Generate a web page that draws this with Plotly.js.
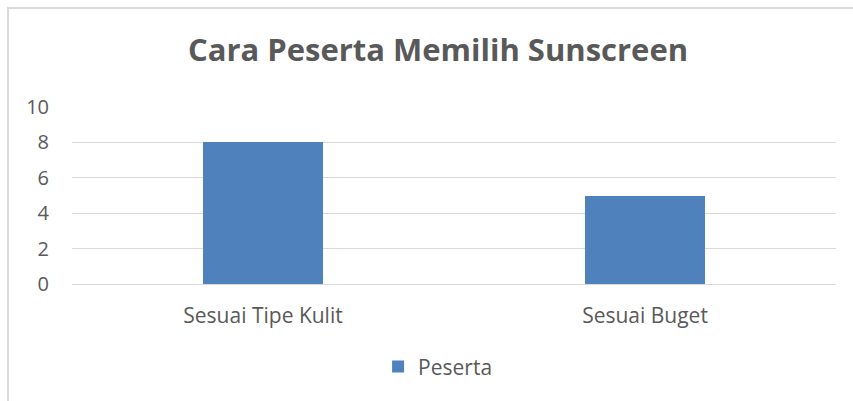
<!DOCTYPE html>
<html>
<head>
<meta charset="utf-8">
<script src="https://cdn.plot.ly/plotly-3.0.1.min.js"></script>
<style>
html,body{margin:0;padding:0;background:#fff;overflow:hidden;}
#wrap{position:relative;width:853px;height:401px;}
#chart{width:853px;height:401px;}
#frame{position:absolute;left:7px;top:7px;width:870px;height:420px;border:2px solid #d9d9d9;pointer-events:none;box-sizing:border-box;}
</style>
</head>
<body>
<div id="wrap"><div id="chart"></div><div id="frame"></div></div>
<script>
var categories = ["Sesuai Tipe Kulit", "Sesuai Buget"];
var peserta = [8, 5];
var seriesName = "Peserta";
var titleText = "Cara Peserta Memilih Sunscreen";
var yTicks = [0, 2, 4, 6, 8, 10];

var font = "'Open Sans', sans-serif";
var data = [{
  type: "bar",
  x: categories,
  y: peserta,
  name: seriesName,
  marker: {color: "#4f81bd"},
  width: 0.315,
  showlegend: true
}];
var layout = {
  width: 853, height: 401,
  margin: {l: 72, r: 17, t: 107, b: 117},
  paper_bgcolor: "#fff", plot_bgcolor: "#fff",
  font: {family: font, color: "#595959", size: 20},
  title: {text: "<b>" + titleText + "</b>", x: 0.5135, xanchor: "center", y: 0.874, yanchor: "middle",
          font: {family: font, size: 31, color: "#595959"}},
  xaxis: {type: "category", showgrid: false, zeroline: false, showline: true, linecolor: "#d9d9d9", linewidth: 1,
          ticks: "", ticklabelstandoff: 13, tickfont: {size: 21, color: "#595959"}},
  yaxis: {range: [0, 10], tickvals: yTicks, showgrid: true, gridcolor: "#d9d9d9", gridwidth: 1,
          zeroline: false, showline: false, ticks: "", ticklabelstandoff: 22, tickfont: {size: 20, color: "#595959"}},
  showlegend: true,
  legend: {orientation: "h", xref: "container", yref: "container", x: 0.513, xanchor: "center", y: 0.085, yanchor: "middle",
           font: {size: 21, color: "#595959"}, itemwidth: 30},
  bargap: 0
};
Plotly.newPlot("chart", data, layout, {displayModeBar: false, staticPlot: true});
</script>
</body>
</html>
